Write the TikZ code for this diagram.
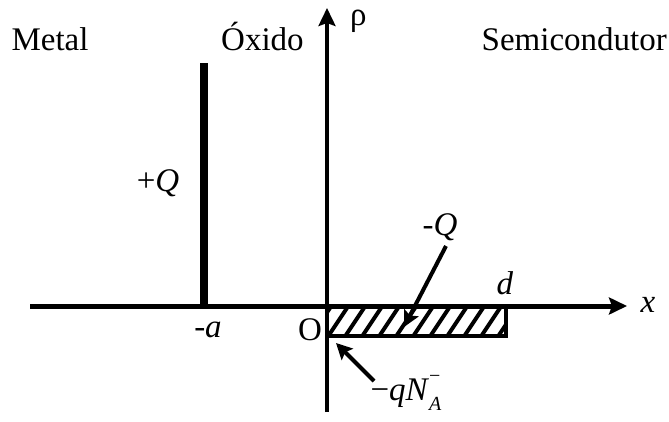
\documentclass[tikz,border=0pt]{standalone}
\usepackage{fontspec}
\setmainfont{Liberation Serif}
\usetikzlibrary{arrows.meta}
\begin{document}
\begin{tikzpicture}[x=1pt,y=-1pt,
  lbl/.style={inner sep=0pt, font=\fontsize{33}{39}\selectfont},
  bigtip/.style={-{Stealth[length=18pt,width=17pt,inset=3pt]}},
  smalltip/.style={-{Stealth[length=16pt,width=16pt,inset=3pt]}}]
\useasboundingbox (0,0) rectangle (669,421);
% axes
\coordinate (xs) at (30,306);
\coordinate (xe) at (627,306);
\coordinate (ys) at (327,412);
\coordinate (ye) at (327,8);
\draw[bigtip, line width=5pt] (xs) -- (xe);
\draw[bigtip, line width=3.5pt] (ys) -- (ye);
% metal charge bar
\coordinate (bb) at (204,304);
\coordinate (bt) at (204,63);
\draw[line width=8pt] (bb) -- (bt);
% hatched depletion box
\coordinate (bx1) at (327,307);
\coordinate (bx2) at (506,336);
\begin{scope}
\clip (bx1) rectangle (bx2);
\foreach \i in {-2,...,12}
  \draw[line width=4pt] ({327+\i*17},338) -- ({327+\i*17+22},305);
\end{scope}
\draw[line width=4pt] (bx1) rectangle (bx2);
% labels
\node[lbl, anchor=base] (metal) at (50,50) {Metal};
\node[lbl, anchor=base west] (oxido) at (221,50) {Óxido};
\node[lbl, anchor=base east] (semi) at (667,50) {Semicondutor};
\node[lbl, anchor=base west] (rho) at (350,25) {ρ};
\node[lbl] (pq) at (158,183) {+\textit{Q}};
\node[lbl] (mq) at (440,227) {-\textit{Q}};
\node[lbl] (dl) at (505,283) {\textit{d}};
\node[lbl] (xl) at (648,305) {\textit{x}};
\node[lbl] (al) at (208,330) {-\textit{a}};
\node[lbl] (ol) at (310,330) {O};
\node[lbl] (qna) at (406,393) {−\textit{qN}\rlap{\raisebox{0.55em}{\fontsize{20}{20}\selectfont −}}\raisebox{-0.3em}{\fontsize{20}{20}\selectfont\itshape A}};
% pointer arrows
\coordinate (mqs) at (446,246);
\coordinate (mqe) at (404,327);
\draw[smalltip, line width=4pt] (mqs) -- (mqe);
\coordinate (qns) at (374,381);
\coordinate (qne) at (336,343);
\draw[smalltip, line width=4pt] (qns) -- (qne);
\end{tikzpicture}
\end{document}
